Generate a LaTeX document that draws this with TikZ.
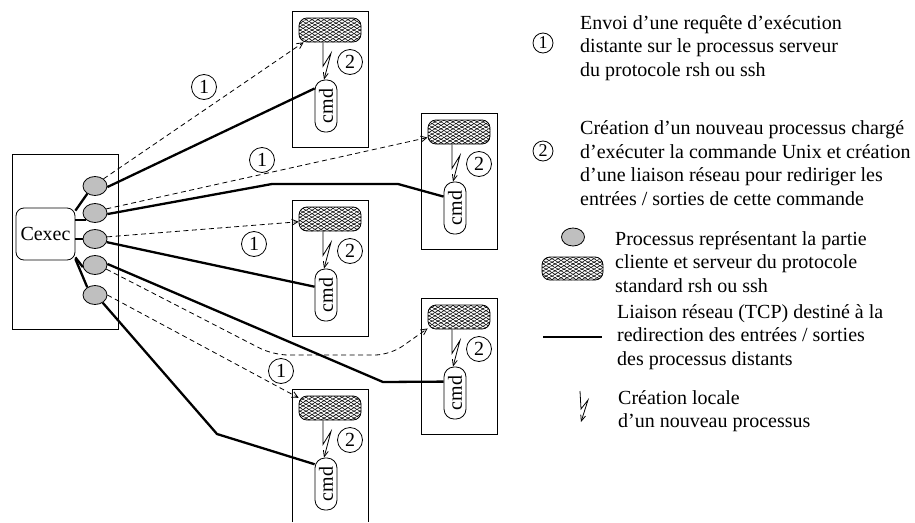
\documentclass[tikz,border=0pt]{standalone}
\usepackage{fontspec}
\setmainfont{Liberation Serif}
\usepackage{graphicx}
\usetikzlibrary{arrows.meta,patterns.meta,shapes.geometric}

\tikzset{
  base font/.style={font=\fontsize{20}{23.5}\selectfont},
  frame/.style={draw, line width=0.9pt, inner sep=0pt},
  tcp/.style={line width=2.3pt},
  request/.style={line width=0.8pt, dash pattern=on 5pt off 3.5pt,
    -{Straight Barb[length=6pt,width=6pt]}},
  spark/.style={line width=0.8pt, -{Straight Barb[length=6pt,width=5pt]}},
  client/.style={ellipse, draw, line width=0.8pt, fill=black!25,
    minimum width=24pt, minimum height=19pt, inner sep=0pt},
  server/.style={rectangle, draw, line width=0.8pt, rounded corners=8pt,
    minimum width=62pt, minimum height=24pt, inner sep=0pt,
    preaction={fill=white},
    preaction={pattern={Lines[angle=30,distance=3pt,line width=0.55pt]}},
    pattern={Lines[angle=-30,distance=3pt,line width=0.55pt]}},
  cmdbox/.style={rectangle, draw, line width=0.8pt, rounded corners=10pt,
    minimum width=22pt, minimum height=52pt, inner sep=0pt, fill=white, base font},
  stepnum/.style={circle, draw, line width=0.8pt, minimum size=25pt,
    inner sep=0pt, base font},
  legendnum/.style={circle, draw, line width=0.8pt, minimum size=20pt,
    inner sep=0pt, font=\fontsize{18}{20}\selectfont},
  legendtext/.style={anchor=west, align=left, inner sep=0pt, base font},
}

% inside of a remote host: rsh/ssh server, spawned command, step 2
% #1 name prefix, #2 left edge, #3 top edge
\newcommand\hostinside[3]{%
  \node[server] (#1h) at (#2+38,#3+19) {};
  \node[cmdbox] (#1c) at (#2+34,#3+95) {\rotatebox{90}{cmd}};
  \node[stepnum] (#1n) at (#2+58,#3+51) {2};
  \draw[spark] ([xshift=-7pt]#1h.south) -- ++(0,24) -- ++(8,-13)
    -- ([xshift=-2pt]#1c.north);
}

\begin{document}
\begin{tikzpicture}[x=1pt,y=-1pt]
\useasboundingbox (0,0) rectangle (915,522);

% local host running Cexec
\node[frame, minimum width=106pt, minimum height=175pt] (cexechost) at (65,241.5) {};
\node[draw, line width=0.8pt, rounded corners=8pt, minimum width=59pt,
  minimum height=52pt, inner sep=0pt, fill=white, base font] (cexec) at (45.5,234) {Cexec};
\node[client] (e1) at (95,186) {};
\node[client] (e2) at (95,213) {};
\node[client] (e3) at (95,239) {};
\node[client] (e4) at (95,265) {};
\node[client] (e5) at (95,295) {};

\draw[tcp] (cexec.38) -- (e1.225);
\draw[tcp] (e2.220 -| cexec.east) -- (e2.220);
\draw[tcp] (e3.west -| cexec.east) -- (e3.west);
\draw[tcp] (cexec.-38) -- (e4.190);
\draw[tcp] (cexec.-40) -- (e5.135);

% remote hosts
\node[frame, minimum width=76pt, minimum height=136pt] (hostA) at (330,79) {};
\node[frame, minimum width=76pt, minimum height=136pt] (hostB) at (459,181) {};
\node[frame, minimum width=76pt, minimum height=136pt] (hostC) at (330,268) {};
\node[frame, minimum width=76pt, minimum height=136pt] (hostD) at (459,366) {};
\draw[line width=0.9pt] (292,522) -- (292,389) -- (368,389) -- (368,522);

\hostinside{A}{292}{11}
\hostinside{B}{421}{113}
\hostinside{C}{292}{200}
\hostinside{D}{421}{298}
\hostinside{E}{292}{389}

% step 1 labels
\node[stepnum] (s1) at (204,87) {1};
\node[stepnum] (s2) at (262,160) {1};
\node[stepnum] (s3) at (254,244) {1};
\node[stepnum] (s4) at (281,371) {1};

% execution requests
\draw[request] (e1.40) -- (Ah.205);
\draw[request] (e2.20) -- (Bh.190);
\draw[request] (e3.10) -- (Ch.185);
\draw[request, rounded corners=15pt] (e4.-20) -- (273,355) -- (390,355) -- (Dh.200);
\draw[request] (e5.0) -- (Eh.162);

% redirected input / output links
\draw[tcp] (e1.-5) -- (Ac.123);
\draw[tcp] (e2.-5) -- (272,184) -- (398,184) -- (Bc.135);
\draw[tcp] (e3.-15) -- (Cc.144);
\draw[tcp] (e4.5) -- (383,382) -- (Dc.135);
\draw[tcp] (e5.-45) -- (217,434) -- (Ec.120);

% legend
\node[legendnum] (l1) at (543,43) {1};
\node[legendtext] (t1) at (580,48) {Envoi d’une requête d’exécution\\distante sur le processus serveur\\du protocole rsh ou ssh};
\node[legendnum] (l2) at (543,151) {2};
\node[legendtext] (t2) at (580,163) {Création d’un nouveau processus chargé\\d’exécuter la commande Unix et création\\d’une liaison réseau pour rediriger les\\entrées / sorties de cette commande};
\node[client, minimum width=23pt, minimum height=18pt] (lclient) at (573,237) {};
\node[server, minimum width=61pt, minimum height=23pt] (lserver) at (572.5,268.5) {};
\node[legendtext] (t3) at (615,262) {Processus représentant la partie\\cliente et serveur du protocole\\standard rsh ou ssh};
\coordinate (ltcpa) at (543,337);
\coordinate (ltcpb) at (602,337);
\draw[tcp] (ltcpa) -- (ltcpb);
\node[legendtext] (t4) at (617,337) {Liaison réseau (TCP) destiné à la\\redirection des entrées / sorties\\des processus distants};
\coordinate (lspark) at (580,391);
\draw[spark] (lspark) -- ++(1,18) -- ++(7,-9) -- ++(-7,22);
\node[legendtext] (t5) at (618,411) {Création locale\\d’un nouveau processus};
\end{tikzpicture}
\end{document}
